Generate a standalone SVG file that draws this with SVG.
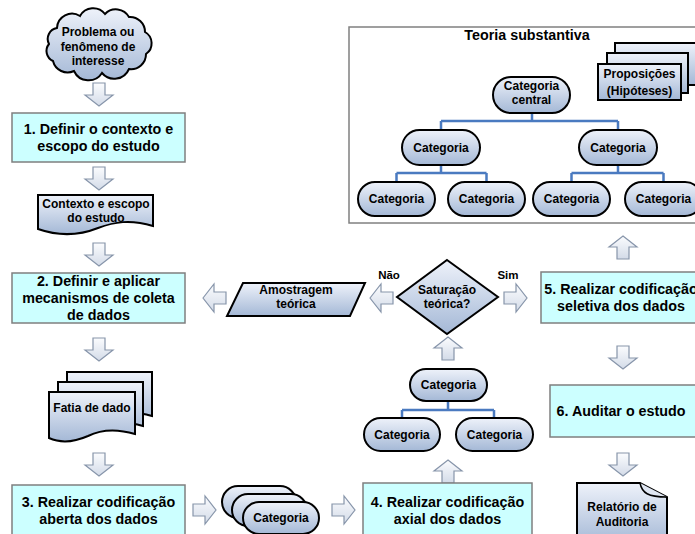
<svg xmlns="http://www.w3.org/2000/svg" width="695" height="534" viewBox="0 0 695 534">
<defs>
<linearGradient id="ng" x1="0" y1="0" x2="0" y2="1"><stop offset="0" stop-color="#eef2fa"/><stop offset="1" stop-color="#a4b8d6"/></linearGradient>
<linearGradient id="ag" x1="0" y1="0" x2="0" y2="1"><stop offset="0" stop-color="#fbfcfe"/><stop offset="1" stop-color="#d3dbe8"/></linearGradient>
</defs>
<style>
.n{fill:url(#ng);stroke:#000;stroke-width:2}
.b{fill:#ccffff;stroke:#7f7f7f;stroke-width:1.5}
.a{fill:url(#ag);stroke:#8795aa;stroke-width:1.2}
.t{stroke:#4a7ac0;stroke-width:2.5;fill:none}
.fr{fill:#fff;stroke:#808080;stroke-width:1.5}
text{font-family:"Liberation Sans",Arial,sans-serif;font-weight:bold;text-anchor:middle;fill:#000}
.s11{font-size:11.5px}
.s12{font-size:12px}
.s14{font-size:14.3px}
</style>
<rect width="695" height="534" fill="#fff"/>

<g id="teoria">
<rect class="fr" x="349" y="27" width="360" height="196"/>
<text class="s14" x="527" y="40">Teoria substantiva</text>
</g>

<g id="connectors">
<polygon class="a" points="93,83 105,83 105,95 113,95 99,106 85,95 93,95"/>
<polygon class="a" points="93,167 105,167 105,179 113,179 99,190 85,179 93,179"/>
<polygon class="a" points="93,243 105,243 105,255 113,255 99,266 85,255 93,255"/>
<polygon class="a" points="93,338 105,338 105,350 113,350 99,361 85,350 93,350"/>
<polygon class="a" points="93,453 105,453 105,465 113,465 99,476 85,465 93,465"/>
<polygon class="a" points="193,504 205,504 205,496 216,510 205,524 205,516 193,516"/>
<polygon class="a" points="332,504 344,504 344,496 355,510 344,524 344,516 332,516"/>
<polygon class="a" points="448,460 462,471 454,471 454,483 442,483 442,471 434,471"/>
<polygon class="a" points="448,337 462,348 454,348 454,360 442,360 442,348 434,348"/>
<polygon class="a" points="370,298 381,284 381,292 393,292 393,304 381,304 381,312"/>
<polygon class="a" points="203,298 214,284 214,292 226,292 226,304 214,304 214,312"/>
<polygon class="a" points="504,292 516,292 516,284 527,298 516,312 516,304 504,304"/>
<polygon class="a" points="623,236 637,247 629,247 629,259 617,259 617,247 609,247"/>
<polygon class="a" points="617,346 629,346 629,358 637,358 623,369 609,358 617,358"/>
<polygon class="a" points="617,453 629,453 629,465 637,465 623,476 609,465 617,465"/>
<path class="t" d="M532 113V121M441 121H618M441 121V130M618 121V130"/>
<path class="t" d="M441 165V173M396.5 173H486.5M396.5 173V182M486.5 173V182"/>
<path class="t" d="M618 165V173M571.5 173H663.5M571.5 173V182M663.5 173V182"/>
<path class="t" d="M448 401V410M402 410H494M402 410V418M494 410V418"/>
<text class="s11" x="389" y="279">Não</text>
<text class="s11" x="508" y="279">Sim</text>
</g>

<g id="problema">
<path class="n" d="M57 28A15 15 0 0 1 80 16A15 15 0 0 1 105 14A15 15 0 0 1 129 17A15 15 0 0 1 145 32A13 13 0 0 1 146 54A15 15 0 0 1 129 69A16 16 0 0 1 102 73A16 16 0 0 1 74 71A15 15 0 0 1 53 61A11 11 0 0 1 49 44A11 11 0 0 1 57 28Z"/>
<text class="s12" x="98" y="36">Problema ou</text>
<text class="s12" x="98" y="50.5">fenômeno de</text>
<text class="s12" x="98" y="65">interesse</text>
</g>

<g id="passo1">
<rect class="b" x="12" y="113" width="173" height="49"/>
<text class="s14" x="98.5" y="134">1. Definir o contexto e</text>
<text class="s14" x="98.5" y="151">escopo do estudo</text>
</g>

<g id="contexto">
<path class="n" d="M38 195H153V226C130 219 114 222 98 228C78 236 58 236 38 229Z"/>
<text class="s12" x="96" y="208">Contexto e escopo</text>
<text class="s12" x="96" y="222">do estudo</text>
</g>

<g id="passo2">
<rect class="b" x="12" y="273" width="173" height="50"/>
<text class="s14" x="98.5" y="286">2. Definir e aplicar</text>
<text class="s14" x="98.5" y="303">mecanismos de coleta</text>
<text class="s14" x="98.5" y="320">de dados</text>
</g>

<g id="fatia">
<path class="n" d="M67 372H152V416C133 410 118 412 106 418C90 425 78 425 67 420Z"/>
<path class="n" d="M58 382H143V426C124 420 109 422 97 428C81 435 69 435 58 430Z"/>
<path class="n" d="M49 392H135V434C115 428 100 430 88 436C72 443 60 443 49 438Z"/>
<text class="s12" x="92" y="412">Fatia de dado</text>
</g>

<g id="passo3">
<rect class="b" x="12" y="485" width="173" height="60"/>
<text class="s14" x="98.5" y="507">3. Realizar codificação</text>
<text class="s14" x="98.5" y="524">aberta dos dados</text>
</g>

<g id="categorias">
<rect class="n" x="222" y="486" width="74" height="32" rx="16"/>
<rect class="n" x="232" y="494" width="75" height="32" rx="16"/>
<rect class="n" x="243" y="502" width="76" height="32" rx="16"/>
<text class="s12" x="281" y="522">Categoria</text>
</g>

<g id="passo4">
<rect class="b" x="363" y="483" width="169" height="62"/>
<text class="s14" x="447.5" y="507">4. Realizar codificação</text>
<text class="s14" x="447.5" y="524">axial dos dados</text>
</g>

<g id="axial-topo">
<rect class="n" x="410" y="369" width="77" height="32" rx="16"/>
<text class="s12" x="448.5" y="389">Categoria</text>
</g>
<g id="axial-esq">
<rect class="n" x="364" y="418" width="76" height="33" rx="16.5"/>
<text class="s12" x="402" y="439">Categoria</text>
</g>
<g id="axial-dir">
<rect class="n" x="456" y="418" width="77" height="33" rx="16.5"/>
<text class="s12" x="494.5" y="439">Categoria</text>
</g>

<g id="saturacao">
<polygon class="n" points="447,260 498,297 447,334 397,297"/>
<text class="s12" x="447" y="294">Saturação</text>
<text class="s12" x="447" y="308">teórica?</text>
</g>

<g id="amostragem">
<polygon class="n" points="243,283 365,283 350,316 227,316"/>
<text class="s12" x="296" y="294">Amostragem</text>
<text class="s12" x="296" y="308">teórica</text>
</g>

<g id="passo5">
<rect class="b" x="541" y="272" width="170" height="51"/>
<text class="s14" x="621" y="294">5. Realizar codificação</text>
<text class="s14" x="621" y="311">seletiva dos dados</text>
</g>

<g id="passo6">
<rect class="b" x="550" y="385" width="160" height="52"/>
<text class="s14" x="621" y="416">6. Auditar o estudo</text>
</g>

<g id="relatorio">
<path class="n" d="M577 483H640L667 497V545H577Z"/>
<path d="M640 483C642 493 648 497 667 497" fill="#dfe6f2" stroke="#000" stroke-width="1.5"/>
<text class="s12" x="622" y="511">Relatório de</text>
<text class="s12" x="622" y="526">Auditoria</text>
</g>

<g id="proposicoes">
<rect class="n" x="615" y="43" width="90" height="42"/>
<rect class="n" x="607" y="53" width="81" height="40"/>
<rect class="n" x="598" y="64" width="83" height="36"/>
<text class="s12" x="639.5" y="78">Proposições</text>
<text class="s12" x="639.5" y="95">(Hipóteses)</text>
</g>

<g id="cat-central">
<rect class="n" x="493" y="77" width="77" height="36" rx="18"/>
<text class="s12" x="531.5" y="90">Categoria</text>
<text class="s12" x="531.5" y="104">central</text>
</g>
<g id="cat-l2a">
<rect class="n" x="402" y="130" width="78" height="35" rx="17.5"/>
<text class="s12" x="441" y="152">Categoria</text>
</g>
<g id="cat-l2b">
<rect class="n" x="579" y="130" width="78" height="35" rx="17.5"/>
<text class="s12" x="618" y="152">Categoria</text>
</g>
<g id="cat-l3a">
<rect class="n" x="358" y="182" width="77" height="34" rx="17"/>
<text class="s12" x="396.5" y="203">Categoria</text>
</g>
<g id="cat-l3b">
<rect class="n" x="448" y="182" width="77" height="34" rx="17"/>
<text class="s12" x="486.5" y="203">Categoria</text>
</g>
<g id="cat-l3c">
<rect class="n" x="533" y="182" width="77" height="34" rx="17"/>
<text class="s12" x="571.5" y="203">Categoria</text>
</g>
<g id="cat-l3d">
<rect class="n" x="625" y="182" width="77" height="34" rx="17"/>
<text class="s12" x="663.5" y="203">Categoria</text>
</g>
</svg>
